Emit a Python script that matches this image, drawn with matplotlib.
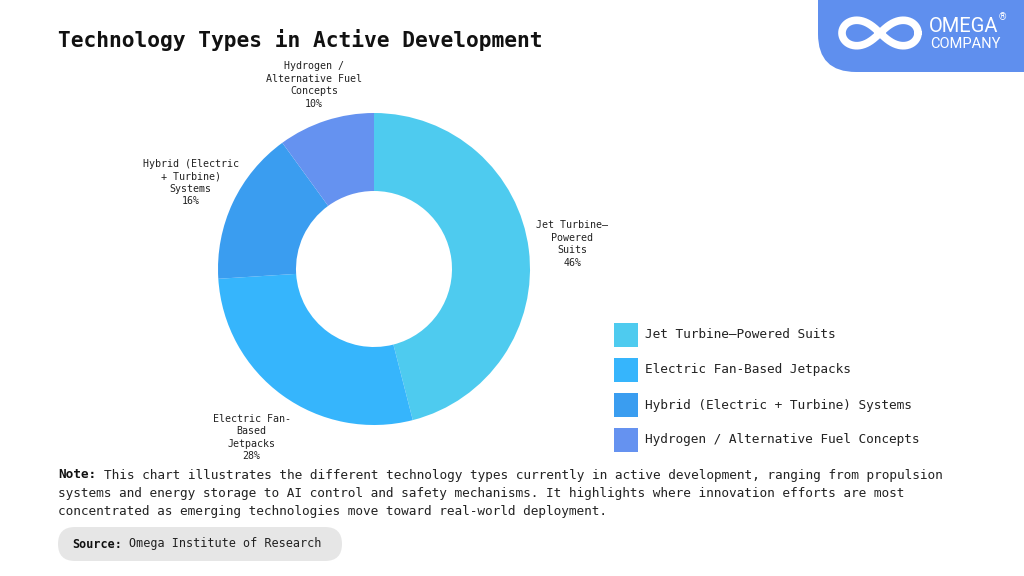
import numpy as np
import matplotlib
matplotlib.use('Agg')
import matplotlib.pyplot as plt
from matplotlib.patches import Rectangle, FancyBboxPatch
from matplotlib.transforms import IdentityTransform

# data
categories = ['Jet Turbine—Powered Suits', 'Electric Fan-Based Jetpacks',
              'Hybrid (Electric + Turbine) Systems', 'Hydrogen / Alternative Fuel Concepts']
wrapped = ['Jet Turbine—\nPowered\nSuits', 'Electric Fan-\nBased\nJetpacks',
           'Hybrid (Electric\n+ Turbine)\nSystems', 'Hydrogen /\nAlternative Fuel\nConcepts']
shares = [46, 28, 16, 10]
colors = ['#4ECBEF', '#36B5FC', '#3A9DF0', '#6592F0']

# how far each outside label sits from the centre (in radii)
label_dist = [1.28, 1.335, 1.30, 1.24]

mono = 'DejaVu Sans Mono'
W, H = 1024, 576

fig = plt.figure(figsize=(10.24, 5.76), dpi=100)
fig.patch.set_facecolor('white')
px = IdentityTransform()


def fx(x):
    return x / W


def fy(y):
    return 1 - y / H


# donut: centre (374, 269) px, radius 156 px
cx, cy, r = 374, 269, 156
span = 1.6
ax = fig.add_axes([fx(cx - span * r), fy(cy + span * r), 2 * span * r / W, 2 * span * r / H])
labels = [f'{w}\n{s}%' for w, s in zip(wrapped, shares)]
wedges, texts = ax.pie(shares, colors=colors, startangle=90, counterclock=False,
                       labels=labels, labeldistance=1.3,
                       wedgeprops=dict(width=0.5, edgecolor='none'),
                       textprops=dict(family=mono, fontsize=7.2, color='#222222',
                                      linespacing=1.3))
for wdg, t, d in zip(wedges, texts, label_dist):
    mid = np.deg2rad((wdg.theta1 + wdg.theta2) / 2)
    t.set_position((d * np.cos(mid), d * np.sin(mid)))
    t.set_ha('center')
    t.set_va('center')
ax.set_xlim(-span, span)
ax.set_ylim(-span, span)
ax.set_aspect('equal')
ax.axis('off')

# title
fig.text(fx(58), fy(40), 'Technology Types in Active Development', family=mono,
         fontsize=15.3, fontweight='bold', color='#111111', va='center', ha='left')

# legend
for i, (cat, col) in enumerate(zip(categories, colors)):
    yc = 335 + i * 35
    fig.patches.append(Rectangle((614, H - yc - 12), 24, 24, transform=px,
                                 facecolor=col, edgecolor='none'))
    fig.text(fx(645), fy(yc), cat, family=mono, fontsize=9.2, color='#222222',
             va='center', ha='left')

renderer = fig.canvas.get_renderer()


def bold_lead(x, y, lead, rest, size):
    a = fig.text(fx(x), fy(y), lead, family=mono, fontsize=size, fontweight='bold',
                 color='#111111', va='center', ha='left')
    bb = a.get_window_extent(renderer)
    fig.text(fx(bb.x1 + size * 0.6 * 100 / 72), fy(y), rest, family=mono, fontsize=size,
             color='#222222', va='center', ha='left')


# note
note_lines = [
    'This chart illustrates the different technology types currently in active development, ranging from propulsion',
    'systems and energy storage to AI control and safety mechanisms. It highlights where innovation efforts are most',
    'concentrated as emerging technologies move toward real-world deployment.',
]
bold_lead(58, 475, 'Note:', note_lines[0], 9.2)
for i, line in enumerate(note_lines[1:]):
    fig.text(fx(58), fy(493 + 18 * i), line, family=mono, fontsize=9.2,
             color='#222222', va='center', ha='left')

# source box
fig.patches.append(FancyBboxPatch((58, H - 561), 284, 34,
                                  boxstyle='round,pad=0,rounding_size=17',
                                  transform=px, facecolor='#E6E6E6', edgecolor='none'))
bold_lead(72, 544, 'Source:', 'Omega Institute of Research', 8.5)

# logo badge
fig.patches.append(FancyBboxPatch((818, H - 72), 260, 120,
                                  boxstyle='round,pad=0,rounding_size=38',
                                  transform=px, facecolor='#5F8FEE', edgecolor='none'))
t = np.linspace(0, 2 * np.pi, 300)
lx = 880 + 38 * np.cos(t) / (1 + np.sin(t) ** 2)
ly = 33 + 36 * np.sin(t) * np.cos(t) / (1 + np.sin(t) ** 2)
fig.add_artist(plt.Line2D(lx, H - ly, transform=px, color='white',
                          lw=5.5, solid_capstyle='round'))
fig.text(fx(929), fy(26), 'OMEGA', family='Roboto', fontsize=14.5, color='white',
         va='center', ha='left')
fig.text(fx(999), fy(17), '®', family='Roboto', fontsize=7, color='white',
         va='center', ha='left')
fig.text(fx(930), fy(44), 'COMPANY', family='Roboto', fontsize=10.5, color='white',
         va='center', ha='left')

fig.savefig('out.png', dpi=100)
